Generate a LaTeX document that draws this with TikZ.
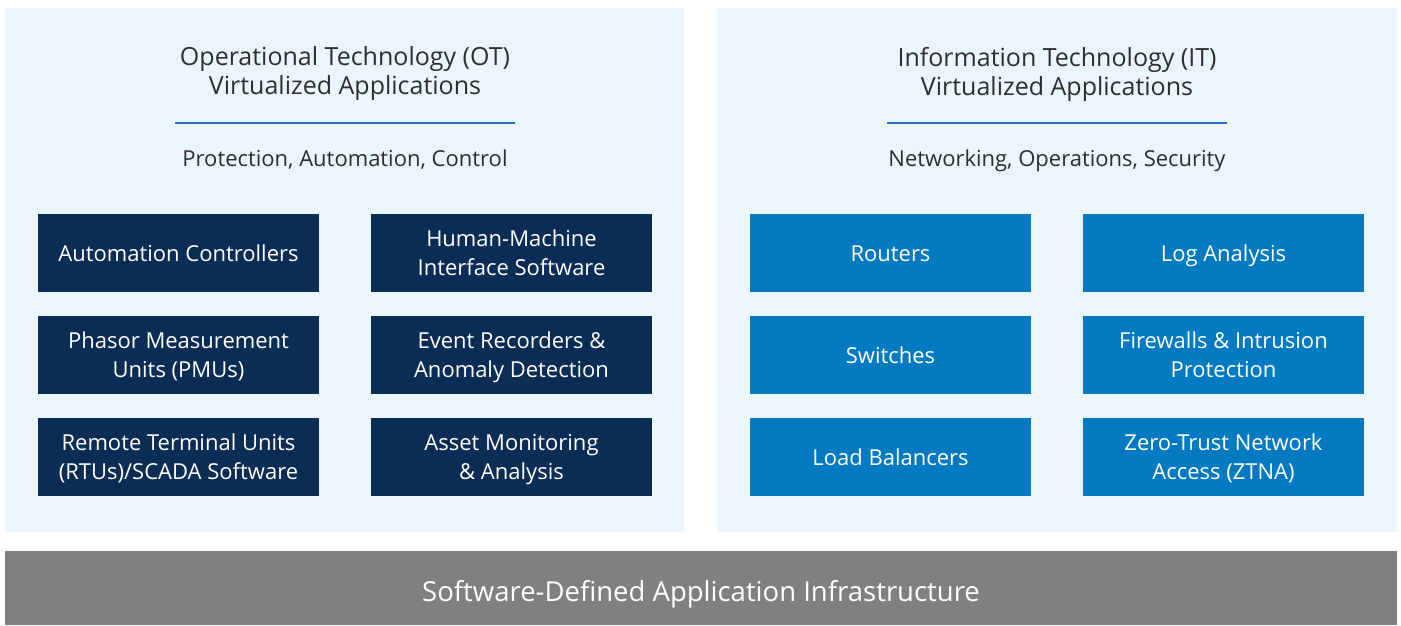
\documentclass[tikz,border=0pt]{standalone}
\usepackage{fontspec}
\setmainfont{Open Sans}
\usetikzlibrary{positioning}
\definecolor{panelbg}{HTML}{EAF6FC}
\definecolor{otblue}{HTML}{0B2D55}
\definecolor{itblue}{HTML}{017AC2}
\definecolor{infgray}{HTML}{808080}
\definecolor{txtgray}{HTML}{2E2E2E}
\definecolor{rulecol}{HTML}{2F6FB5}
\tikzset{
  panel/.style = {fill = panelbg, draw = none},
  title/.style = {align = center, text = txtgray, font = \fontsize{25}{29}\selectfont},
  subtitle/.style = {text = txtgray, font = \fontsize{22}{29}\selectfont,
                     execute at begin node = \strut},
  appbox/.style = {minimum width = 281pt, minimum height = 78pt, align = center,
                   text = white, inner sep = 0pt, font = \fontsize{22}{29}\selectfont,
                   execute at begin node = \rule{0pt}{26pt}, execute at end node = \strut},
  twoline/.style = {text depth = -2pt},
  otbox/.style = {appbox, fill = otblue},
  itbox/.style = {appbox, fill = itblue}
}
\begin{document}
\begin{tikzpicture}[x = 1pt, y = -1pt]
  \useasboundingbox (0,0) rectangle (1401,625);
  % panels
  \fill[panel] (5,8) rectangle (684,532);
  \fill[panel] (717,8) rectangle (1397,532);
  \fill[infgray] (5,551) rectangle (1397,625);

  % OT side
  \node[title] (ottitle) at (345,74) {Operational Technology (OT)\\Virtualized Applications};
  \coordinate (otrulel) at (175,123);
  \coordinate (otruler) at (515,123);
  \draw[rulecol, line width = 1.2pt] (otrulel) -- (otruler);
  \node[subtitle] (otsub) at (345,161) {Protection, Automation, Control};

  \node[otbox] (autoctl)          at (178.5,253) {Automation Controllers};
  \node[otbox, twoline] (hmi)     at (511.5,253) {Human-Machine\\Interface Software};
  \node[otbox, twoline] (pmu)     at (178.5,355) {Phasor Measurement\\Units (PMUs)};
  \node[otbox, twoline] (evtrec)  at (511.5,355) {Event Recorders \&\\Anomaly Detection};
  \node[otbox, twoline] (rtu)     at (178.5,457) {Remote Terminal Units\\(RTUs)/SCADA Software};
  \node[otbox, twoline] (asset)   at (511.5,457) {Asset Monitoring\\\& Analysis};

  % IT side
  \node[title] (ittitle) at (1057,74) {Information Technology (IT)\\Virtualized Applications};
  \coordinate (itrulel) at (887,123);
  \coordinate (itruler) at (1227,123);
  \draw[rulecol, line width = 1.2pt] (itrulel) -- (itruler);
  \node[subtitle] (itsub) at (1057,161) {Networking, Operations, Security};

  \node[itbox] (routers)           at (890.5,253) {Routers};
  \node[itbox] (logan)             at (1223.5,253) {Log Analysis};
  \node[itbox] (switches)          at (890.5,355) {Switches};
  \node[itbox, twoline] (firewall) at (1223.5,355) {Firewalls \& Intrusion\\Protection};
  \node[itbox] (loadbal)           at (890.5,457) {Load Balancers};
  \node[itbox, twoline] (ztna)     at (1223.5,457) {Zero-Trust Network\\Access (ZTNA)};

  % infrastructure
  \node[text = white, font = \fontsize{27.5}{33}\selectfont] (infra) at (701,595) {Software-Defined Application Infrastructure\strut};
\end{tikzpicture}
\end{document}
